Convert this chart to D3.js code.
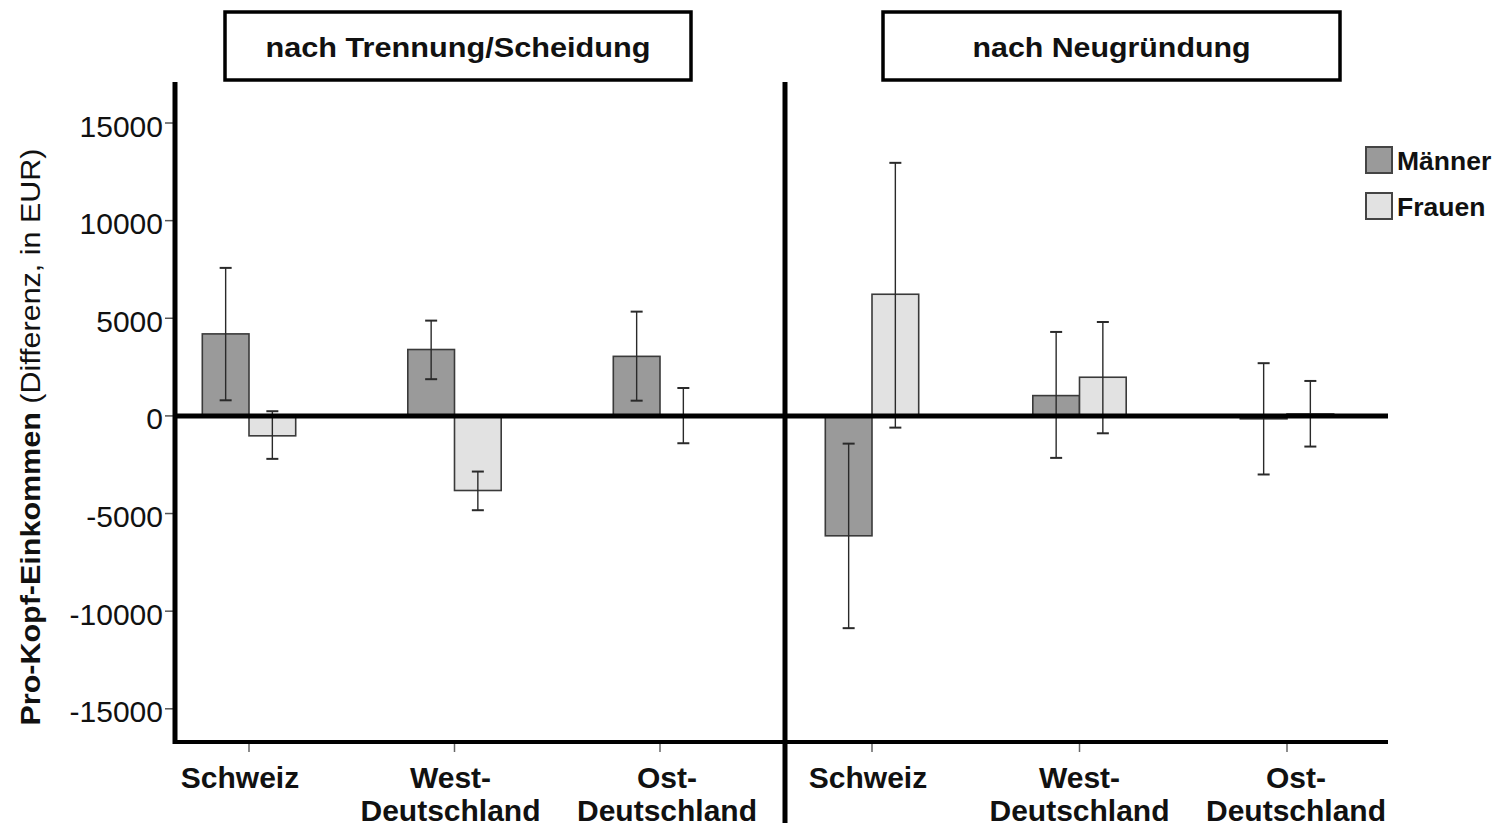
<!DOCTYPE html>
<html><head><meta charset="utf-8">
<script src="https://cdn.jsdelivr.net/npm/d3@7"></script>
<style>
html,body{margin:0;padding:0;background:#fff;}
svg{display:block;font-family:"Liberation Sans",Arial,sans-serif;}
</style></head>
<body><svg id="chart" width="1501" height="827"></svg>
<script>
// ---- data ----
const panels = ["nach Trennung/Scheidung", "nach Neugründung"];
const categories = ["Schweiz", "West-Deutschland", "Ost-Deutschland"];
const categoryLines = [["Schweiz"], ["West-", "Deutschland"], ["Ost-", "Deutschland"]];
const seriesNames = ["Männer", "Frauen"];
const yTicks = [15000, 10000, 5000, 0, -5000, -10000, -15000];

// nach Trennung/Scheidung
const maennerTrennung   = [4200, 3400, 3050];
const maennerTrennungLo = [800, 1880, 780];
const maennerTrennungHi = [7580, 4880, 5340];
const frauenTrennung    = [-1020, -3820, 0];
const frauenTrennungLo  = [-2200, -4830, -1400];
const frauenTrennungHi  = [240, -2850, 1430];
// nach Neugründung
const maennerNeu   = [-6140, 1040, -150];
const maennerNeuLo = [-10870, -2150, -3000];
const maennerNeuHi = [-1420, 4300, 2700];
const frauenNeu    = [6230, 1980, 100];
const frauenNeuLo  = [-600, -890, -1570];
const frauenNeuHi  = [12960, 4810, 1790];

// ---- build table ----
const table = [
  {panel: panels[0], series: [
    {name: seriesNames[0], v: maennerTrennung, lo: maennerTrennungLo, hi: maennerTrennungHi},
    {name: seriesNames[1], v: frauenTrennung, lo: frauenTrennungLo, hi: frauenTrennungHi}]},
  {panel: panels[1], series: [
    {name: seriesNames[0], v: maennerNeu, lo: maennerNeuLo, hi: maennerNeuHi},
    {name: seriesNames[1], v: frauenNeu, lo: frauenNeuLo, hi: frauenNeuHi}]}
];

const colors = {"Männer": "#9a9a9a", "Frauen": "#e2e2e2"};
const svg = d3.select("#chart");
svg.append("rect").attr("width",1501).attr("height",827).attr("fill","#fff");

const axisX = 175, plotTop = 82, plotBottom = 742, plotRight = 1388, divX = 785;
const y = d3.scaleLinear().domain([-16700, 17100]).range([plotBottom, plotTop]);

const panelX = [
  d3.scalePoint().domain(categories).range([249, 660]),
  d3.scalePoint().domain(categories).range([872, 1287])
];
const labelShift = [[-9, -4, 7], [-4, 0, 9]];
const sub = d3.scaleBand().domain(seriesNames).range([-46.7, 46.7]);
const boxes = [[225, 691], [883, 1340]];
const titleLen = [385, 278];

// bars
table.forEach((p, pi) => {
  const x = panelX[pi];
  const g = svg.append("g");
  p.series.forEach(s => {
    const data = categories.map((c, i) => ({c, v: s.v[i], lo: s.lo[i], hi: s.hi[i]}));
    g.selectAll(null).data(data).join("rect")
      .attr("x", d => x(d.c) + sub(s.name))
      .attr("width", sub.bandwidth())
      .attr("y", d => y(Math.max(0, d.v)))
      .attr("height", d => Math.abs(y(d.v) - y(0)))
      .attr("fill", colors[s.name])
      .attr("stroke", "#3a3a3a").attr("stroke-width", 1.6);
  });
  p.series.forEach(s => {
    const data = categories.map((c, i) => ({c, v: s.v[i], lo: s.lo[i], hi: s.hi[i]}));
    const cx = d => x(d.c) + sub(s.name) + sub.bandwidth() / 2;
    const eg = g.selectAll(null).data(data).join("g").attr("stroke", "#2a2a2a").attr("stroke-width", 1.4);
    eg.append("line").attr("x1", cx).attr("x2", cx).attr("y1", d => y(d.hi)).attr("y2", d => y(d.lo));
    eg.append("line").attr("x1", d => cx(d) - 6).attr("x2", d => cx(d) + 6).attr("y1", d => y(d.hi)).attr("y2", d => y(d.hi)).attr("stroke-width", 2);
    eg.append("line").attr("x1", d => cx(d) - 6).attr("x2", d => cx(d) + 6).attr("y1", d => y(d.lo)).attr("y2", d => y(d.lo)).attr("stroke-width", 2);
  });

  // x axis ticks and labels
  const ax = svg.append("g");
  ax.selectAll(null).data(categories).join("line")
    .attr("x1", d => x(d)).attr("x2", d => x(d))
    .attr("y1", plotBottom + 2).attr("y2", plotBottom + 10)
    .attr("stroke", "#666").attr("stroke-width", 1.5);
  categories.forEach((c, i) => {
    const cxl = x(c) + labelShift[pi][i];
    const t = ax.append("text").attr("x", cxl).attr("y", 788)
      .attr("text-anchor", "middle").attr("font-size", 30).attr("font-weight", "bold").attr("fill", "#111");
    categoryLines[i].forEach((ln, li) => {
      t.append("tspan").attr("x", cxl).attr("dy", li === 0 ? 0 : 33).text(ln);
    });
  });

  // panel title boxes
  const [bx0, bx1] = boxes[pi];
  svg.append("rect").attr("x", bx0).attr("y", 12).attr("width", bx1 - bx0).attr("height", 68)
    .attr("fill", "#fff").attr("stroke", "#000").attr("stroke-width", 3.5);
  svg.append("text").attr("x", (bx0 + bx1) / 2).attr("y", 57).attr("text-anchor", "middle")
    .attr("font-size", 28).attr("font-weight", "bold").attr("fill", "#111")
    .attr("textLength", titleLen[pi]).attr("lengthAdjust", "spacingAndGlyphs").text(p.panel);
});

// y axis
const yg = svg.append("g");
yg.selectAll(null).data(yTicks).join("line")
  .attr("x1", axisX - 10).attr("x2", axisX).attr("y1", d => y(d)).attr("y2", d => y(d))
  .attr("stroke", "#555").attr("stroke-width", 1.5);
yg.selectAll(null).data(yTicks).join("text")
  .attr("x", axisX - 12).attr("y", d => y(d)).attr("dy", "0.45em")
  .attr("text-anchor", "end").attr("font-size", 30).attr("fill", "#111").text(d => d);

// frame lines
svg.append("line").attr("x1", axisX).attr("x2", axisX).attr("y1", plotTop).attr("y2", plotBottom + 2)
  .attr("stroke", "#000").attr("stroke-width", 5);
svg.append("line").attr("x1", axisX - 2).attr("x2", plotRight).attr("y1", plotBottom).attr("y2", plotBottom)
  .attr("stroke", "#000").attr("stroke-width", 4);
svg.append("line").attr("x1", divX).attr("x2", divX).attr("y1", plotTop).attr("y2", 823)
  .attr("stroke", "#000").attr("stroke-width", 5);
svg.append("line").attr("x1", axisX).attr("x2", plotRight).attr("y1", y(0)).attr("y2", y(0))
  .attr("stroke", "#000").attr("stroke-width", 5);

// y title
const yt = svg.append("text").attr("transform", `translate(40,${437}) rotate(-90)`)
  .attr("text-anchor", "middle").attr("font-size", 28).attr("fill", "#111")
  .attr("textLength", 577).attr("lengthAdjust", "spacingAndGlyphs");
yt.append("tspan").attr("font-weight", "bold").text("Pro-Kopf-Einkommen");
yt.append("tspan").attr("font-weight", "normal").text(" (Differenz, in EUR)");

// legend
const lg = svg.append("g");
seriesNames.forEach((n, i) => {
  lg.append("rect").attr("x", 1366).attr("y", 147 + i * 46).attr("width", 26).attr("height", 26)
    .attr("fill", colors[n]).attr("stroke", "#444").attr("stroke-width", 2);
  lg.append("text").attr("x", 1397).attr("y", 160 + i * 46).attr("dy", "0.36em")
    .attr("font-size", 26.5).attr("font-weight", "bold").attr("fill", "#111").text(n);
});
</script></body></html>
